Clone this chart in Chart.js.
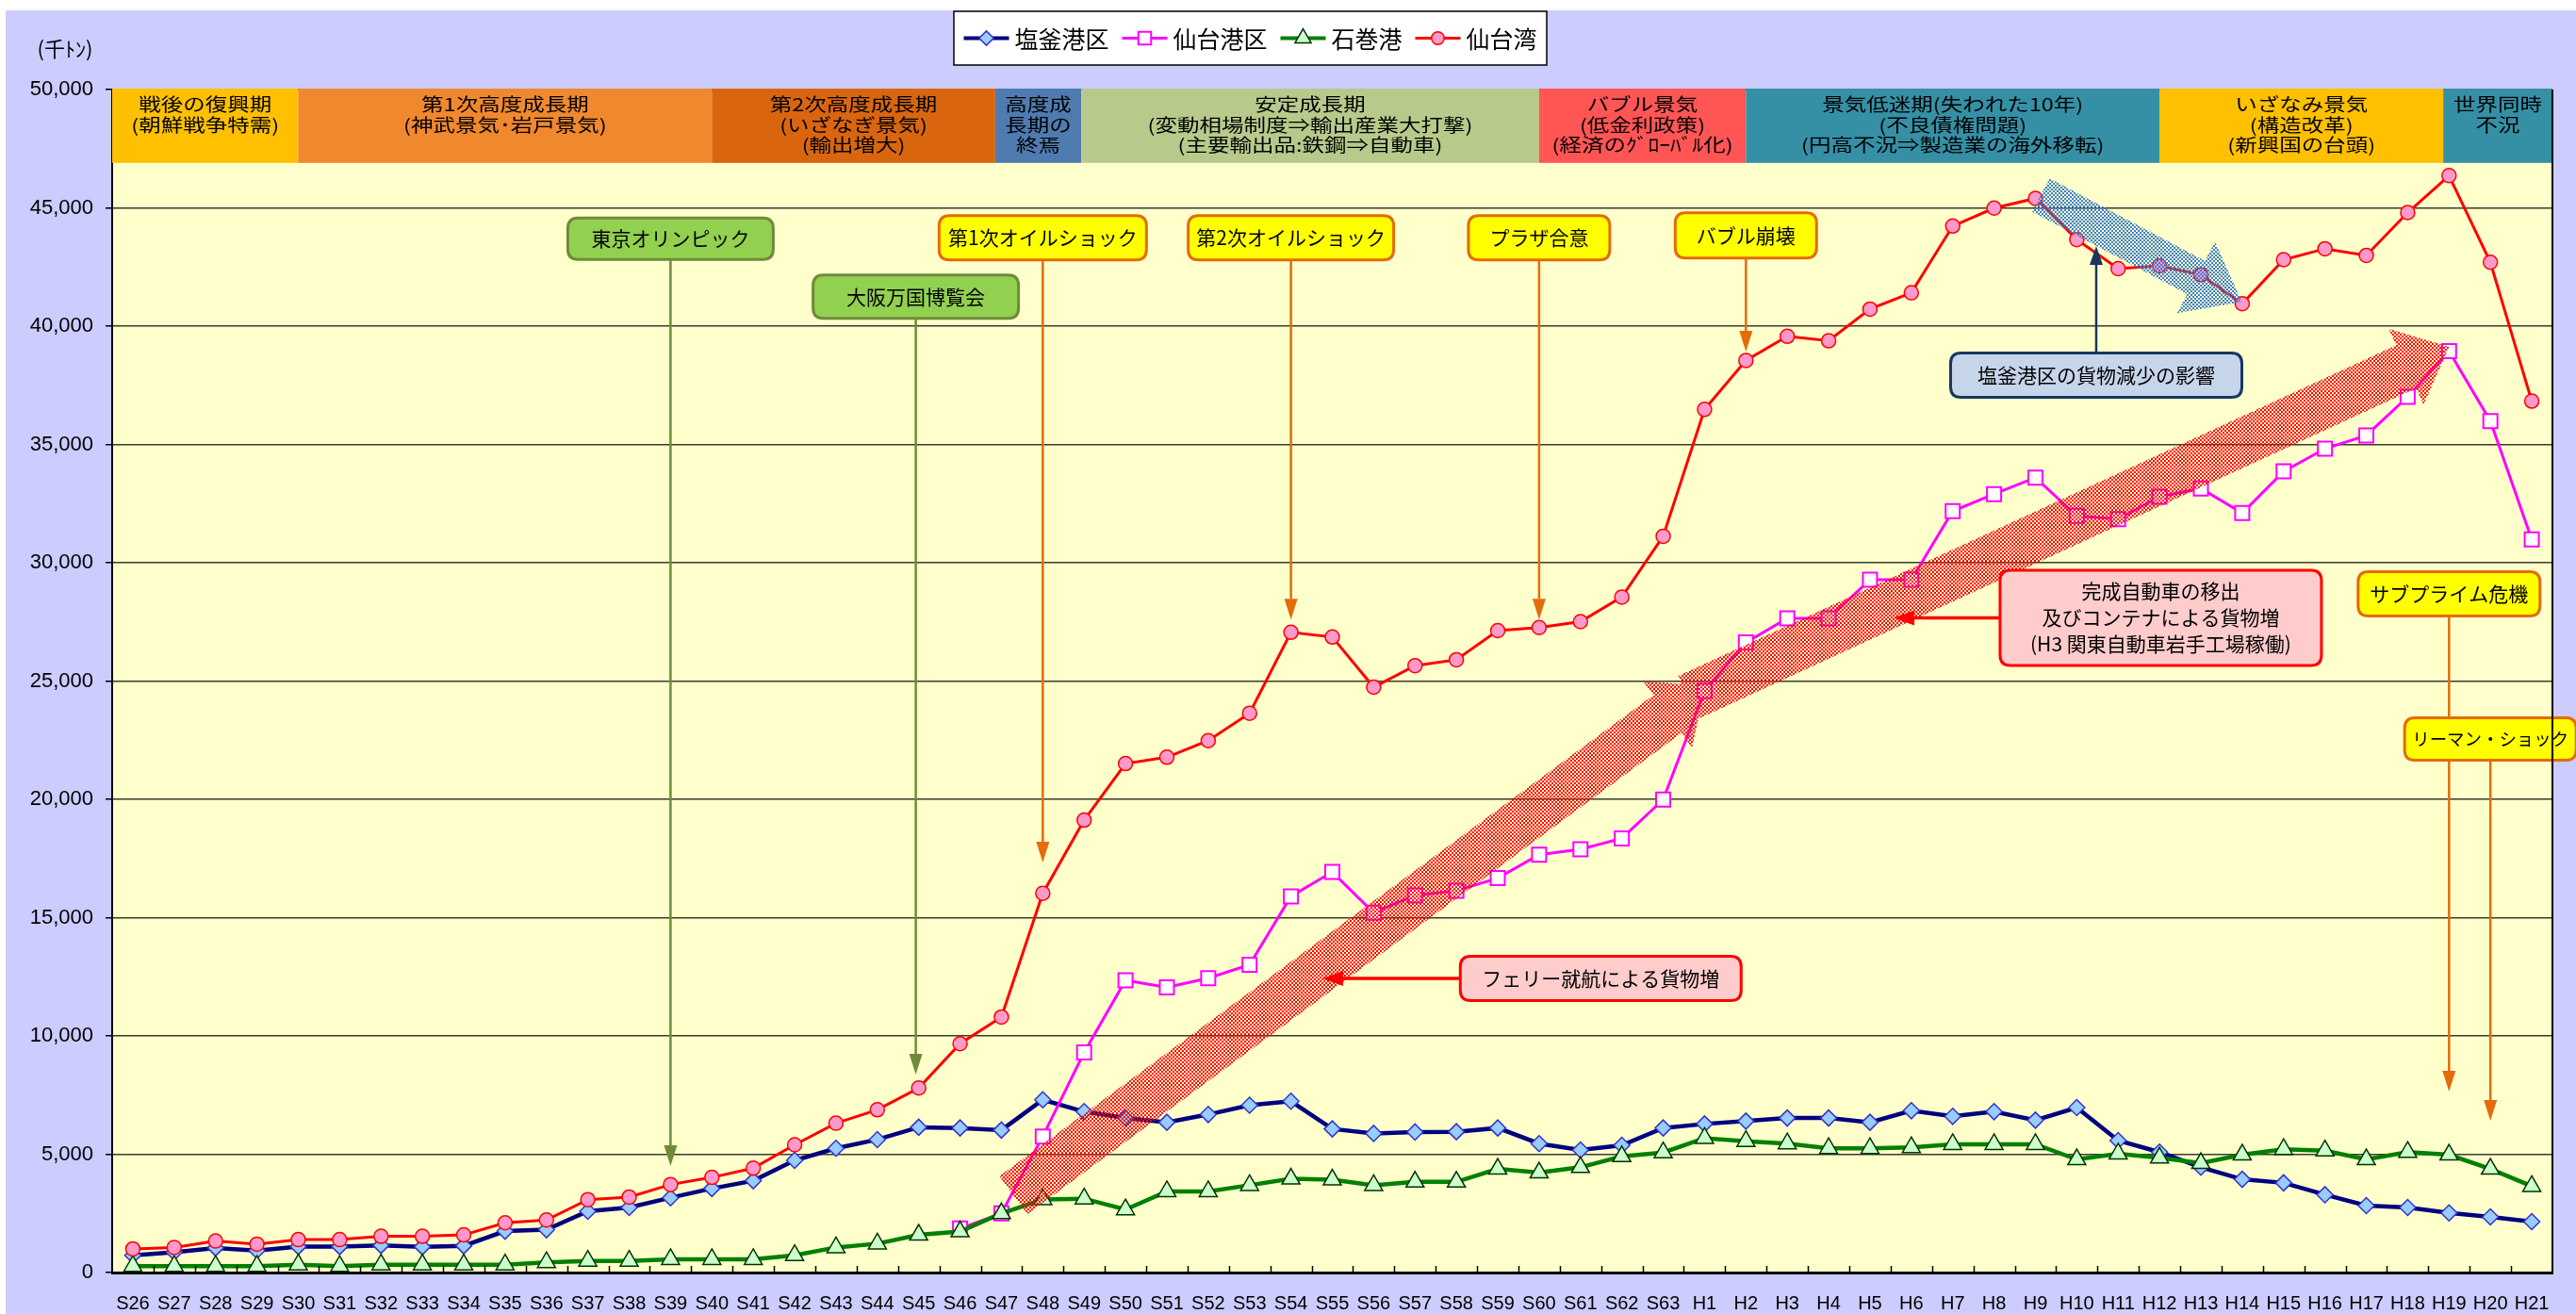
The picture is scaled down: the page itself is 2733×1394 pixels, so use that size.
<!DOCTYPE html>
<html><head><meta charset="utf-8">
<script src="https://cdn.jsdelivr.net/npm/chart.js@4.4.1/dist/chart.umd.min.js"></script>
<style>html,body{margin:0;padding:0;background:#fff;overflow:hidden}</style>
</head><body>
<canvas id="c" width="2733" height="1394" style="display:block;width:2733px;height:1394px"></canvas>
<script>
// ---------- DATA ----------
const categories = ['S26','S27','S28','S29','S30','S31','S32','S33','S34','S35','S36','S37','S38','S39','S40','S41','S42','S43','S44','S45','S46','S47','S48','S49','S50','S51','S52','S53','S54','S55','S56','S57','S58','S59','S60','S61','S62','S63','H1','H2','H3','H4','H5','H6','H7','H8','H9','H10','H11','H12','H13','H14','H15','H16','H17','H18','H19','H20','H21'];
const seriesNames = ['塩釜港区','仙台港区','石巻港','仙台湾'];
const shiogama = [730,860,1040,930,1100,1100,1150,1090,1130,1750, 1810,2590,2750,3160,3550,3880,4740,5250,5620,6140, 6110,6020,7300,6800,6530,6350,6680,7070,7240,6070, 5880,5940,5950,6110,5450,5180,5380,6110, 6280,6400,6530,6530,6350,6840,6600,6800,6440,6970, 5580,5090,4450,3940,3790,3290,2830,2750,2520,2350,2150];
const sendaiPort = [null,null,null,null,null,null,null,null,null,null, null,null,null,null,null,null,null,null,null,null, 1860,2500,5750,9300,12350,12050,12440,13010,15900,16930, 15210,15940,16140,16670,17660,17890,18350,19990, 24580,26630,27650,27650,29280,29280,32180,32900,33600,31980, 31840,32790,33140,32100,33860,34820,35380,37010,38940,35990,30990];
const ishinomaki = [270,270,270,270,330,270,330,330,330,330, 430,490,490,560,560,560,730,1060,1220,1590, 1730,2500,3090,3120,2660,3430,3430,3690,3960,3920, 3690,3830,3830,4380,4220,4450,4910,5070, 5680,5550,5450,5250,5250,5290,5420,5420,5420,4780, 5020,4850,4620,4980,5210,5150,4780,5090,4980,4380,3650];
const sendaiBay = [1000,1060,1330,1200,1390,1390,1530,1530,1590,2100, 2220,3080,3190,3720,4020,4410,5400,6310,6880,7800, 9670,10800,16030,19120,21510,21780,22480,23640,27060,26860, 24740,25650,25900,27130,27260,27510,28550,31120, 36480,38550,39570,39380,40720,41410,44230,44990,45400,43660, 42430,42550,42170,40950,42810,43270,42990,44800,46360,42700,36830];
const yTicks = [0,5000,10000,15000,20000,25000,30000,35000,40000,45000,50000];
const yUnit = '(千ﾄﾝ)';

// period bands (category-index boundaries) and their texts
const periodFrom = [-0.5, 4, 14, 20.85, 22.93, 34, 39, 49, 55.86];
const periodTo   = [4, 14, 20.85, 22.93, 34, 39, 49, 55.86, 58.5];
const periodText = [
  ['戦後の復興期','(朝鮮戦争特需)'],
  ['第1次高度成長期','(神武景気･岩戸景気)'],
  ['第2次高度成長期','(いざなぎ景気)','(輸出増大)'],
  ['高度成','長期の','終焉'],
  ['安定成長期','(変動相場制度⇒輸出産業大打撃)','(主要輸出品:鉄鋼⇒自動車)'],
  ['バブル景気','(低金利政策)','(経済のｸﾞﾛｰﾊﾞﾙ化)'],
  ['景気低迷期(失われた10年)','(不良債権問題)','(円高不況⇒製造業の海外移転)'],
  ['いざなみ景気','(構造改革)','(新興国の台頭)'],
  ['世界同時','不況']
];
const periodColor = ['#FFC000','#F0882E','#D9660F','#4F7BB0','#B7CA8B','#FF5555','#3590A6','#FFC000','#3590A6'];

// event callouts: text, anchor (category index, value), arrow target
const eventText = [['東京オリンピック'],['大阪万国博覧会'],['第1次オイルショック'],['第2次オイルショック'],['プラザ合意'],['バブル崩壊'],['サブプライム危機'],['リーマン・ショック'],['塩釜港区の貨物減少の影響'],['フェリー就航による貨物増'],['完成自動車の移出','及びコンテナによる貨物増','(H3 関東自動車岩手工場稼働)']];
const eventX    = [13, 18.93, 22, 28, 34, 39, 56, 57, 47.47, 35.49, 49.03];
const eventY    = [43700, 41250, 43740, 43740, 43740, 43830, 28690, 22550, 37930, 12430, 27670];
const eventTip  = [4500, 8370, 17330, 27600, 27600, 38920, 7650, 6410, 43390, 28.76, 42.57];
const eventDir  = ['down','down','down','down','down','down','down','down','up','left','left'];
const eventKind = ['green','green','yellow','yellow','yellow','yellow','yellow','yellow','blue','pink','pink'];

// hatched trend arrows: from (index,value) to (index,value)
const flowFrom = [[21.29, 3270],[37.6, 24300],[46.13, 45540]];
const flowTo   = [[38.02, 24780],[56.0, 39120],[50.99, 41030]];
const flowKind = ['red','red','blue'];

// ---------- STYLES ----------
const FJP = "'Noto Sans CJK JP','Noto Sans',sans-serif";
const FLAT = "'Liberation Sans','DejaVu Sans',sans-serif";
const boxW = [218,218,220,218,150,150,193,182,309,298,341];
const boxH = [44,46,47,47,47,48,47,45,47,47,101];
const kindStyle = {
  yellow:{fill:'#FFFF00',stroke:'#E46C0A',arrow:'#E46C0A',alw:2.5,hw:7,hl:22},
  green:{fill:'#92D050',stroke:'#6F8B3A',arrow:'#6F8B3A',alw:2.5,hw:7,hl:22},
  blue:{fill:'#C6D5E9',stroke:'#17375E',arrow:'#17375E',alw:2.5,hw:7,hl:20},
  pink:{fill:'#FFCCCC',stroke:'#FF0000',arrow:'#FF0000',alw:3.5,hw:8,hl:22}
};
const flowStyle = {
  red:{color:[255,0,0],shaft:50,head:88,headLen:50},
  blue:{color:[63,127,208],shaft:40,head:86,headLen:55}
};

function rr(ctx,x,y,w,h,r){ctx.beginPath();ctx.moveTo(x+r,y);ctx.lineTo(x+w-r,y);ctx.quadraticCurveTo(x+w,y,x+w,y+r);ctx.lineTo(x+w,y+h-r);ctx.quadraticCurveTo(x+w,y+h,x+w-r,y+h);ctx.lineTo(x+r,y+h);ctx.quadraticCurveTo(x,y+h,x,y+h-r);ctx.lineTo(x,y+r);ctx.quadraticCurveTo(x,y,x+r,y);ctx.closePath();}
function hatchPattern(ctx,rgb){const c=document.createElement('canvas');c.width=4;c.height=4;const g=c.getContext('2d');const im=g.createImageData(4,4);
  for(let y=0;y<4;y++)for(let x=0;x<4;x++){const on=(((x>>1)+(y>>1))%2)===0;const p=(y*4+x)*4;im.data[p]=rgb[0];im.data[p+1]=rgb[1];im.data[p+2]=rgb[2];im.data[p+3]=on?255:0;}
  g.putImageData(im,0,0);return ctx.createPattern(c,'repeat');}
function marker(ctx,style,x,y,r,fill,stroke,lw){ctx.beginPath();
  if(style==='rectRot'){ctx.moveTo(x,y-r);ctx.lineTo(x+r,y);ctx.lineTo(x,y+r);ctx.lineTo(x-r,y);ctx.closePath();}
  else if(style==='rect'){const s=r*Math.SQRT1_2;ctx.rect(x-s,y-s,2*s,2*s);}
  else if(style==='triangle'){ctx.moveTo(x,y-r);ctx.lineTo(x+r*0.866,y+r*0.5);ctx.lineTo(x-r*0.866,y+r*0.5);ctx.closePath();}
  else{ctx.arc(x,y,r,0,Math.PI*2);}
  ctx.fillStyle=fill;ctx.fill();ctx.lineWidth=lw;ctx.strokeStyle=stroke;ctx.stroke();}
function squatText(ctx,t,x,y,sy){ctx.save();ctx.translate(x,y);ctx.scale(1,sy);ctx.fillText(t,0,0);ctx.restore();}

const deco = {
  id:'deco',
  beforeDraw(chart){const {ctx,chartArea:a}=chart;ctx.save();
    ctx.fillStyle='#FFFFFF';ctx.fillRect(0,0,chart.width,chart.height);
    ctx.fillStyle='#CCCCFF';ctx.fillRect(6,11,chart.width-6,chart.height-11);
    ctx.fillStyle='#FFFFCC';ctx.fillRect(a.left,a.top,a.right-a.left,a.bottom-a.top);
    ctx.restore();},
  beforeDatasetsDraw(chart){const {ctx}=chart;const xs=chart.scales.x, ys=chart.scales.y;ctx.save();
    const top=ys.getPixelForValue(50000), bot=ys.getPixelForValue(46900);
    for(let i=0;i<periodFrom.length;i++){
      const x0=xs.getPixelForValue(periodFrom[i]), x1=xs.getPixelForValue(periodTo[i]);
      ctx.fillStyle=periodColor[i];ctx.fillRect(x0,top-1,x1-x0,bot-top+1);
      ctx.fillStyle='#000';ctx.font='23.5px '+FJP;ctx.textAlign='center';ctx.textBaseline='middle';
      periodText[i].forEach((t,k)=>squatText(ctx,t,(x0+x1)/2,top+16+k*21.5,0.8));
    }
    ctx.restore();},
  afterDatasetsDraw(chart){const {ctx,chartArea:a}=chart;const xs=chart.scales.x, ys=chart.scales.y;ctx.save();
    // hatched arrows
    for(let i=0;i<flowFrom.length;i++){const st=flowStyle[flowKind[i]];
      const p0={x:xs.getPixelForValue(flowFrom[i][0]),y:ys.getPixelForValue(flowFrom[i][1])};
      const p1={x:xs.getPixelForValue(flowTo[i][0]),y:ys.getPixelForValue(flowTo[i][1])};
      const dx=p1.x-p0.x,dy=p1.y-p0.y,L=Math.hypot(dx,dy),ux=dx/L,uy=dy/L,nx=-uy,ny=ux;
      const bx=p1.x-ux*st.headLen,by=p1.y-uy*st.headLen,s=st.shaft/2,h=st.head/2;
      ctx.beginPath();ctx.moveTo(p0.x+nx*s,p0.y+ny*s);ctx.lineTo(bx+nx*s,by+ny*s);ctx.lineTo(bx+nx*h,by+ny*h);ctx.lineTo(p1.x,p1.y);ctx.lineTo(bx-nx*h,by-ny*h);ctx.lineTo(bx-nx*s,by-ny*s);ctx.lineTo(p0.x-nx*s,p0.y-ny*s);ctx.closePath();
      ctx.fillStyle=hatchPattern(ctx,st.color);ctx.fill();}
    // callouts
    for(let i=0;i<eventText.length;i++){const st=kindStyle[eventKind[i]];
      const cx=xs.getPixelForValue(eventX[i]), cy=ys.getPixelForValue(eventY[i]), w=boxW[i], h=boxH[i];
      ctx.strokeStyle=st.arrow;ctx.fillStyle=st.arrow;ctx.lineWidth=st.alw;
      if(eventDir[i]==='down'||eventDir[i]==='up'){
        const ty=ys.getPixelForValue(eventTip[i]);const sy=eventDir[i]==='down'?cy+h/2:cy-h/2;const sg=eventDir[i]==='down'?1:-1;
        ctx.beginPath();ctx.moveTo(cx,sy);ctx.lineTo(cx,ty-sg*st.hl);ctx.stroke();
        ctx.beginPath();ctx.moveTo(cx,ty);ctx.lineTo(cx-st.hw,ty-sg*st.hl);ctx.lineTo(cx+st.hw,ty-sg*st.hl);ctx.closePath();ctx.fill();
      } else {
        const tx=xs.getPixelForValue(eventTip[i]);const sx=cx-w/2;
        ctx.beginPath();ctx.moveTo(sx,cy);ctx.lineTo(tx+st.hl,cy);ctx.stroke();
        ctx.beginPath();ctx.moveTo(tx,cy);ctx.lineTo(tx+st.hl,cy-st.hw);ctx.lineTo(tx+st.hl,cy+st.hw);ctx.closePath();ctx.fill();
      }
      rr(ctx,cx-w/2,cy-h/2,w,h,11);ctx.fillStyle=st.fill;ctx.fill();ctx.lineWidth=3;ctx.strokeStyle=st.stroke;ctx.stroke();
      ctx.fillStyle='#000';ctx.textAlign='center';ctx.textBaseline='middle';
      let fs=21;ctx.font=fs+'px '+FJP;
      const mw=Math.max(...eventText[i].map(t=>ctx.measureText(t).width));
      if(mw>w-16){fs=fs*(w-16)/mw;ctx.font=fs+'px '+FJP;}
      const n=eventText[i].length;eventText[i].forEach((t,k)=>ctx.fillText(t,cx,cy+(k-(n-1)/2)*28));
    }
    // inner category ticks
    ctx.strokeStyle='#000';ctx.lineWidth=1.5;ctx.beginPath();
    for(let k=1;k<categories.length;k++){const x=Math.round(xs.getPixelForValue(k-0.5))+0.5;ctx.moveTo(x,a.bottom);ctx.lineTo(x,a.bottom-7);}ctx.stroke();
    // right border
    ctx.lineWidth=2;ctx.beginPath();ctx.moveTo(a.right,a.top);ctx.lineTo(a.right,a.bottom);ctx.stroke();
    // y unit
    ctx.fillStyle='#000';ctx.font='22px '+FJP;ctx.textAlign='center';ctx.textBaseline='middle';ctx.fillText(yUnit,69,52);
    // legend
    ctx.font='25px '+FJP;const items=chart.data.datasets;const segW=48,gap=6,sp=14;
    let tw=0;items.forEach((d,i)=>{tw+=segW+gap+ctx.measureText(d.label).width+(i?sp:0);});
    const lx0=1012,lx1=1641,ly0=12,ly1=69;ctx.fillStyle='#FFFFFF';ctx.fillRect(lx0,ly0,lx1-lx0,ly1-ly0);ctx.lineWidth=1.5;ctx.strokeStyle='#000';ctx.strokeRect(lx0,ly0,lx1-lx0,ly1-ly0);
    let x=(lx0+lx1)/2-tw/2;const ly=(ly0+ly1)/2;
    items.forEach((d,i)=>{if(i)x+=sp;ctx.strokeStyle=d.borderColor;ctx.lineWidth=Math.min(d.borderWidth,4);ctx.beginPath();ctx.moveTo(x,ly);ctx.lineTo(x+segW,ly);ctx.stroke();
      marker(ctx,d.pointStyle,x+segW/2,ly,d.pointRadius*0.9,d.pointBackgroundColor,d.pointBorderColor,d.pointBorderWidth);
      x+=segW+gap;ctx.fillStyle='#000';ctx.textAlign='left';ctx.fillText(d.label,x,ly+1);x+=ctx.measureText(d.label).width;});
    ctx.restore();}
};

new Chart(document.getElementById('c'),{
  type:'line',
  data:{labels:categories,datasets:[
    {label:seriesNames[0],data:shiogama,borderColor:'#000080',borderWidth:4.5,pointStyle:'rectRot',pointRadius:8.5,pointBackgroundColor:'#99CCFF',pointBorderColor:'#3333CC',pointBorderWidth:1.5,order:4},
    {label:seriesNames[1],data:sendaiPort,borderColor:'#FF00FF',borderWidth:3,pointStyle:'rect',pointRadius:10.6,pointBackgroundColor:'#FFFFFF',pointBorderColor:'#FF00FF',pointBorderWidth:2,order:3},
    {label:seriesNames[2],data:ishinomaki,borderColor:'#008000',borderWidth:4.5,pointStyle:'triangle',pointRadius:11,pointBackgroundColor:'#CCFFCC',pointBorderColor:'#003300',pointBorderWidth:1.5,order:2},
    {label:seriesNames[3],data:sendaiBay,borderColor:'#FF0000',borderWidth:3,pointStyle:'circle',pointRadius:7.5,pointBackgroundColor:'#FF99CC',pointBorderColor:'#FF0000',pointBorderWidth:1.5,order:1}
  ]},
  options:{
    responsive:false,devicePixelRatio:1,animation:false,
    layout:{padding:{top:95,right:25,left:0,bottom:0}},
    plugins:{legend:{display:false},tooltip:{enabled:false},title:{display:false}},
    elements:{line:{tension:0},point:{hoverRadius:8}},
    scales:{
      x:{offset:true,grid:{display:false,drawTicks:false},border:{display:true,color:'#000',width:3},
         ticks:{color:'#000',font:{size:20,family:FLAT},maxRotation:0,autoSkip:false,padding:21},
         afterFit:s=>{s.height=44;}},
      y:{min:0,max:50000,afterBuildTicks:s=>{s.ticks=yTicks.map(v=>({value:v}));},
         grid:{color:'#3a3a2a',lineWidth:1.5,tickLength:7,tickColor:'#000'},border:{display:true,color:'#000',width:2},
         ticks:{color:'#000',font:{size:22,family:FLAT},padding:13,callback:v=>v.toLocaleString('en-US')},
         afterFit:s=>{s.width=119;}}
    }
  },
  plugins:[deco]
});
</script>
</body></html>
